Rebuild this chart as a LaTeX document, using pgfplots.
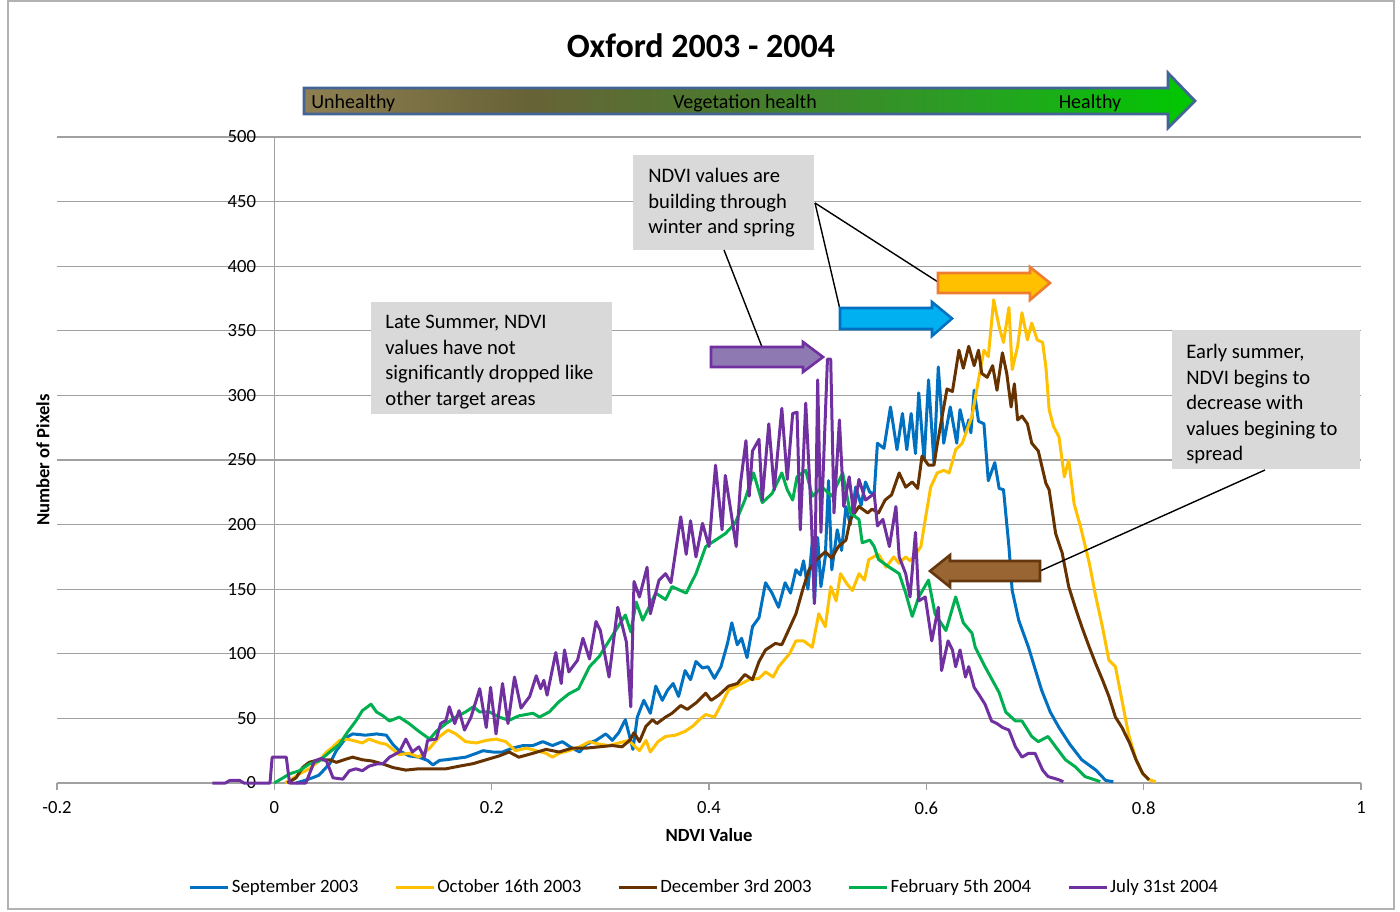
\documentclass[border=0pt]{standalone}
\usepackage{pgfplots}
\pgfplotsset{compat=1.18}
\usepackage{fontspec}
\setmainfont{Carlito}
\definecolor{cBlue}{RGB}{0,112,192}
\definecolor{cYellow}{RGB}{255,192,0}
\definecolor{cBrown}{RGB}{102,51,0}
\definecolor{cGreen}{RGB}{0,176,80}
\definecolor{cPurple}{RGB}{112,48,160}
\definecolor{gridgray}{RGB}{160,160,160}
\definecolor{boxgray}{RGB}{217,217,217}
\definecolor{g0}{RGB}{142,128,82}
\definecolor{g1}{RGB}{104,98,55}
\definecolor{g2}{RGB}{72,124,45}
\definecolor{g3}{RGB}{40,160,35}
\definecolor{g4}{RGB}{0,200,0}
\definecolor{arrborder}{RGB}{68,100,150}
\definecolor{pFill}{RGB}{143,121,178}
\definecolor{bFill}{RGB}{0,176,240}
\definecolor{bBord}{RGB}{0,112,192}
\definecolor{yFill}{RGB}{255,192,0}
\definecolor{yBord}{RGB}{237,125,49}
\definecolor{brFill}{RGB}{153,102,51}
\definecolor{brBord}{RGB}{100,55,15}
\pgfdeclarehorizontalshading{veg}{100bp}{color(0bp)=(g0); color(25bp)=(g0); color(37.5bp)=(g1); color(50bp)=(g2); color(62.5bp)=(g3); color(75bp)=(g4); color(100bp)=(g4)}
\newcommand\tickfont{\fontsize{9.3}{11}\selectfont}
\newcommand\annfont{\fontsize{10.3}{12.75}\selectfont}
\begin{document}
\begin{tikzpicture}
\useasboundingbox (0,0) rectangle (700pt,455.5pt);
\begin{axis}[
  at={(28.5pt,64pt)}, anchor=south west,
  scale only axis, width=652pt, height=323pt,
  xmin=-0.2, xmax=1, ymin=0, ymax=500,
  axis line style={draw=none},
  xtick={-0.2,0,0.2,0.4,0.6,0.8,1}, xticklabels={},
  ytick={0,50,...,500}, yticklabels={},
  ymajorgrids, grid style={line width=0.6pt, color=gridgray},
  xtick pos=lower, ytick pos=left, tick align=outside,
  major tick length=3.5pt,
  xtick style={line width=0.6pt, color=gridgray},
  ytick style={draw=none},
  clip=false,
  every axis plot/.append style={line width=1.5pt, line join=round},
  legend style={at={(0.4965,-0.161)}, anchor=center, legend columns=5, draw=none, fill=none,
    font=\fontsize{9.4}{11}\selectfont, nodes={inner sep=1pt},
    /tikz/every even column/.append style={column sep=17pt}},
  legend cell align=left,
  legend image code/.code={\draw[#1] (0pt,0pt) -- (19pt,0pt);},
]
\draw[gridgray, line width=0.6pt] (axis cs:0,0) -- (axis cs:0,500);
\pgfplotsinvokeforeach{0,50,...,500}{\node[anchor=east, font=\tickfont, inner sep=0pt] at (axis cs:0,#1) [xshift=-9pt] {#1};}
\node[font=\tickfont] at (axis cs:-0.2,0) [yshift=-12.5pt] {-0.2};
\node[font=\tickfont] at (axis cs:0,0) [yshift=-12.5pt] {0};
\node[font=\tickfont] at (axis cs:0.2,0) [yshift=-12.5pt] {0.2};
\node[font=\tickfont] at (axis cs:0.4,0) [yshift=-12.5pt] {0.4};
\node[font=\tickfont] at (axis cs:0.6,0) [yshift=-12.5pt] {0.6};
\node[font=\tickfont] at (axis cs:0.8,0) [yshift=-12.5pt] {0.8};
\node[font=\tickfont] at (axis cs:1,0) [yshift=-12.5pt] {1};

\addplot[cBlue] table {
x y
0.020 0
0.028 2
0.035 4
0.041 6
0.051 15
0.057 25
0.066 35
0.072 38
0.084 37
0.094 38
0.103 37
0.109 30
0.115 25
0.124 21
0.133 20
0.141 17.5
0.146 14
0.152 17.5
0.158 18
0.167 19
0.176 20
0.186 23
0.192 25
0.201 24
0.210 24
0.219 27
0.229 29
0.238 29
0.247 32
0.256 29
0.265 32
0.274 27
0.281 24
0.287 30
0.296 33
0.305 38
0.311 33
0.317 39
0.323 49
0.330 26
0.334 51
0.340 64
0.346 54
0.351 75
0.357 64
0.362 72
0.367 77
0.372 67
0.378 87
0.383 80
0.388 94
0.394 89
0.399 90
0.405 81
0.411 90
0.417 108
0.421 124
0.426 107
0.430 112
0.435 97
0.440 121
0.446 128
0.452 155
0.458 147
0.464 136
0.470 155
0.475 147
0.480 165
0.484 161
0.487 172
0.491 150
0.495 186
0.497 139
0.500 190
0.503 152
0.507 175
0.510 234
0.513 165
0.518 196
0.522 180
0.526 214
0.530 200
0.535 229
0.540 215
0.544 233
0.548 225
0.552 224
0.555 263
0.561 259
0.567 291
0.573 258
0.578 286
0.582 258
0.586 286
0.590 255
0.593 302
0.598 250
0.602 312
0.607 248
0.611 322
0.616 263
0.622 291
0.628 263
0.631 289
0.636 271
0.639 281
0.641 271
0.644 304
0.648 280
0.653 278
0.657 234
0.663 248
0.667 228
0.671 227
0.676 183
0.679 149
0.685 126
0.694 105
0.706 72
0.714 55
0.722 43
0.732 30
0.743 18
0.756 10
0.765 2
0.772 1
};
\addlegendentry{September 2003}

\addplot[cYellow] table {
x y
0.010 0
0.014 2
0.023 7
0.032 11
0.041 17
0.048 24
0.054 28
0.060 33
0.066 34
0.072 33
0.081 31
0.087 34
0.097 31
0.103 30
0.109 26
0.115 22
0.124 23
0.133 20
0.143 27
0.152 36
0.160 41
0.167 38
0.176 32
0.186 31
0.195 33
0.204 34
0.213 32
0.222 25
0.232 27
0.241 25
0.250 23
0.256 20
0.262 23
0.271 25
0.281 28
0.290 32
0.299 30
0.308 29
0.317 31
0.326 33
0.336 25
0.342 33
0.346 24
0.353 32
0.360 36
0.369 37
0.378 40
0.385 44
0.391 49
0.397 53
0.405 51
0.412 62
0.418 72
0.425 75
0.430 77
0.437 80
0.446 81
0.452 86
0.459 82
0.464 90
0.467 93
0.474 100
0.480 110
0.487 110
0.495 105
0.501 131
0.507 121
0.512 152
0.517 141
0.521 162
0.527 154
0.532 149
0.538 162
0.543 157
0.547 173
0.556 177
0.563 167
0.570 175
0.575 170
0.581 175
0.585 172
0.590 177
0.595 183
0.599 204
0.604 229
0.610 240
0.616 242
0.621 240
0.627 258
0.633 263
0.642 284
0.648 312
0.653 335
0.657 330
0.662 374
0.667 353
0.671 341
0.676 368
0.679 320
0.684 338
0.688 364
0.693 343
0.697 356
0.702 343
0.707 341
0.710 322
0.713 289
0.717 276
0.722 268
0.727 237
0.731 250
0.736 216
0.742 198
0.750 170
0.756 144
0.762 121
0.768 95
0.774 90
0.780 64
0.786 38
0.793 18
0.799 7.5
0.805 2.5
0.811 1
};
\addlegendentry{October 16th 2003}

\addplot[cBrown] table {
x y
0.012 0
0.020 4
0.026 12
0.032 16
0.041 18
0.051 18
0.057 16
0.066 18.5
0.072 20
0.081 18
0.090 17
0.100 14.7
0.109 12
0.121 10
0.133 11
0.146 11
0.158 11
0.170 13
0.183 15
0.195 18
0.207 21
0.216 24
0.225 20
0.238 23
0.250 26
0.262 24
0.274 27
0.287 27
0.299 28
0.311 29
0.320 28
0.327 33
0.331 39
0.336 32
0.342 44
0.348 49
0.352 46
0.360 51
0.366 54
0.374 60
0.380 57
0.388 62
0.397 69.5
0.402 64
0.409 68
0.418 75
0.426 77
0.433 84
0.440 80
0.446 94
0.452 103
0.461 108
0.467 107
0.473 118
0.480 131
0.486 149
0.492 165
0.498 172
0.507 179
0.513 174
0.519 183
0.526 188
0.530 204
0.538 214
0.546 209
0.550 212
0.556 209
0.562 219
0.568 223
0.575 240
0.581 229
0.587 233
0.592 228
0.596 253
0.602 246
0.607 246
0.610 262
0.615 286
0.619 305
0.624 303
0.630 335
0.634 321
0.639 338
0.644 323
0.648 335
0.651 317
0.656 314
0.661 323
0.665 304
0.670 333
0.674 317
0.678 291
0.681 309
0.684 281
0.688 284
0.693 278
0.697 263
0.703 257
0.710 232
0.713 227
0.719 193
0.725 178
0.731 152
0.737 136
0.743 121
0.750 105
0.756 92
0.762 80
0.768 67
0.774 51
0.780 43
0.787 31
0.793 18
0.799 7.5
0.805 2.5
};
\addlegendentry{December 3rd 2003}

\addplot[cGreen] table {
x y
0.000 0
0.014 7
0.023 9.5
0.032 14.7
0.041 17
0.051 24
0.060 30
0.067 39
0.075 48
0.081 56
0.089 61
0.094 55
0.100 52
0.106 48
0.115 51
0.124 46
0.133 40
0.143 34
0.149 40
0.158 46
0.167 51
0.176 55
0.183 59
0.189 55
0.198 55
0.207 51
0.216 48.5
0.225 52
0.238 54
0.244 51
0.253 55
0.262 63
0.271 69
0.280 73
0.290 90
0.299 98
0.308 110
0.317 122
0.323 130
0.328 117
0.333 140
0.339 126
0.351 147
0.360 142
0.366 152
0.379 147
0.388 162
0.397 183
0.406 188
0.415 193
0.424 201
0.433 219
0.441 240
0.449 217
0.458 224
0.467 240
0.472 227
0.477 219
0.481 237
0.489 242
0.495 222
0.504 229
0.513 222
0.523 240
0.530 209
0.538 204
0.541 186
0.548 188
0.552 183
0.556 173
0.566 167
0.575 162
0.581 147
0.587 129
0.593 144
0.602 157
0.608 131
0.618 118
0.627 144
0.634 124
0.642 116
0.645 105
0.654 90
0.667 70
0.673 55
0.682 48
0.688 48
0.697 36
0.703 32
0.712 36
0.719 28
0.728 18
0.737 12.6
0.746 5
0.755 2.5
0.760 1
};
\addlegendentry{February 5th 2004}

\addplot[cPurple] table {
x y
-0.057 0
-0.045 0
-0.041 2
-0.032 2
-0.028 0
-0.004 0
-0.002 20
0.011 20
0.014 0
0.029 0
0.037 17
0.043 19
0.048 17
0.054 4
0.063 3
0.069 9.5
0.075 11
0.081 9.5
0.087 13
0.094 14.7
0.100 15
0.106 20
0.115 24
0.121 34
0.127 24
0.133 28
0.138 20
0.141 33
0.149 34
0.153 46
0.158 48.5
0.161 59
0.166 46
0.170 56
0.175 41
0.181 51
0.189 73
0.195 43
0.199 74
0.204 38
0.210 77
0.215 46
0.221 82
0.227 58
0.235 67
0.241 83
0.245 73
0.248 79.5
0.251 68
0.259 101
0.264 77
0.267 103
0.271 86
0.279 95
0.284 112
0.290 96
0.296 125
0.300 118
0.308 82
0.316 136
0.324 109
0.328 59
0.331 156
0.336 144
0.343 167
0.346 131
0.354 157
0.360 162
0.365 155
0.374 206
0.379 177
0.383 203
0.388 175
0.394 201
0.400 183
0.406 246
0.412 196
0.415 238
0.420 211
0.425 183
0.429 232
0.434 265
0.437 222
0.440 257
0.446 266
0.449 219
0.455 278
0.460 227
0.467 290
0.472 235
0.477 286
0.481 287
0.484 196
0.489 294
0.494 209
0.497 139
0.500 312
0.503 194
0.509 328
0.512 328
0.515 209
0.520 281
0.524 214
0.529 237
0.533 209
0.538 235
0.544 219
0.552 224
0.555 199
0.560 204
0.566 183
0.572 214
0.575 175
0.581 162
0.585 144
0.590 194
0.593 141
0.599 144
0.605 110
0.611 136
0.614 87
0.620 110
0.624 103
0.627 90
0.631 103
0.636 82
0.639 90
0.644 74
0.648 69
0.654 61
0.660 48
0.665 46
0.670 43
0.676 41
0.682 28
0.688 20
0.694 23
0.700 23
0.707 10
0.712 5
0.722 2.5
0.726 1
};
\addlegendentry{July 31st 2004}
\end{axis}

\begin{scope}[x=0.5pt, y=-0.5pt, yshift=455.5pt]
% frame
\draw[gray!60, line width=0.6pt] (8,1) rectangle (1394,909);
% title
\node[font=\bfseries\fontsize{17}{20}\selectfont] at (701,46) {Oxford 2003 - 2004};
% axis labels
\node[font=\bfseries\fontsize{9.3}{11}\selectfont] at (709,835) {NDVI Value};
\node[font=\bfseries\fontsize{9.3}{11}\selectfont, rotate=90] at (43,460) {Number of Pixels};
% gradient arrow
\shade[shading=veg] (304,88) -- (1168,88) -- (1168,73) -- (1195,101) -- (1168,128) -- (1168,114) -- (304,114) -- cycle;
\draw[arrborder, line width=1.4pt, line join=miter] (304,88) -- (1168,88) -- (1168,73) -- (1195,101) -- (1168,128) -- (1168,114) -- (304,114) -- cycle;
\node[anchor=west, font=\fontsize{10}{12}\selectfont, inner sep=0pt] at (311,103) {Unhealthy};
\node[font=\fontsize{10}{12}\selectfont, inner sep=0pt] at (745,103) {Vegetation health};
\node[font=\fontsize{10}{12}\selectfont, inner sep=0pt] at (1090,103) {Healthy};
% text boxes
\fill[boxgray] (371,302) rectangle (612,414);
\node[anchor=north west, align=left, inner sep=0pt, font=\annfont] at (385,315) {Late Summer, NDVI\\values have not\\significantly dropped like\\other target areas};
\fill[boxgray] (633,155) rectangle (814,250);
\node[anchor=north west, align=left, inner sep=0pt, font=\annfont] at (648,168) {NDVI values are\\building through\\winter and spring};
\fill[boxgray] (1172,330) rectangle (1360,469);
\node[anchor=north west, align=left, inner sep=0pt, font=\annfont] at (1186,344) {Early summer,\\NDVI begins to\\decrease with\\values begining to\\spread};
% connectors
\draw[black, line width=0.7pt] (724,250) -- (762,347);
\draw[black, line width=0.7pt] (815,203) -- (842,318);
\draw[black, line width=0.7pt] (815,203) -- (938,282);
\draw[black, line width=0.7pt] (1265,470) -- (1040,571);
% block arrows
\draw[fill=pFill, draw=cPurple, line width=1.3pt] (711,347) -- (803,347) -- (803,342) -- (823,357) -- (803,372) -- (803,367) -- (711,367) -- cycle;
\draw[fill=bFill, draw=bBord, line width=1.3pt] (840,308) -- (932,308) -- (932,302) -- (952,318.5) -- (932,336) -- (932,329) -- (840,329) -- cycle;
\draw[fill=yFill, draw=yBord, line width=1.3pt] (938,273) -- (1030,273) -- (1030,267) -- (1050,283) -- (1030,300) -- (1030,293) -- (938,293) -- cycle;
\draw[fill=brFill, draw=brBord, line width=1.3pt] (1040,561) -- (950,561) -- (950,555) -- (930,571) -- (950,587) -- (950,581) -- (1040,581) -- cycle;
\end{scope}
\end{tikzpicture}
\end{document}
